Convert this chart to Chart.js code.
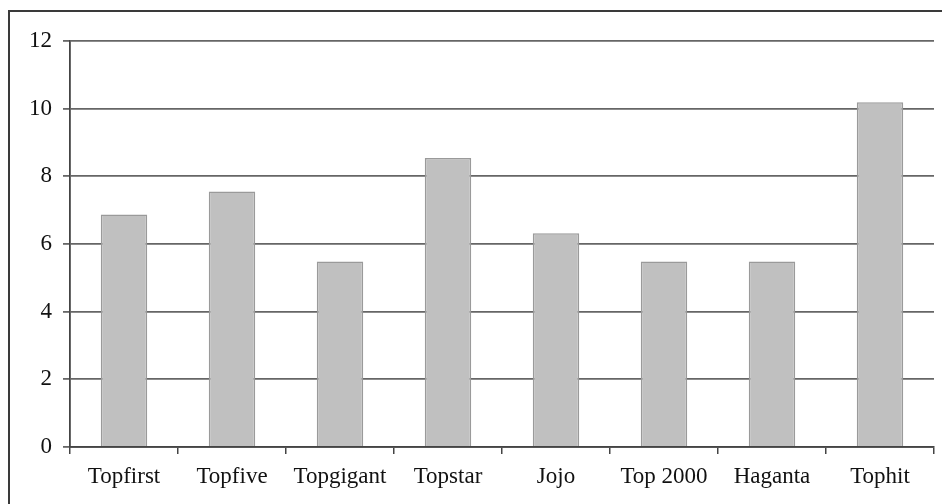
<!DOCTYPE html>
<html>
<head>
<meta charset="utf-8">
<script src="https://cdn.jsdelivr.net/npm/chart.js@4"></script>
<style>
  html, body { margin: 0; padding: 0; background: #fff; }
  #wrap { position: relative; width: 942px; height: 504px; overflow: hidden; }
  #frame { position: absolute; left: 8px; top: 10px; width: 1000px; height: 600px;
           border-left: 2px solid #3a3a3a; border-top: 2px solid #3a3a3a; }
  canvas { position: absolute; left: 0; top: 0; }
</style>
</head>
<body>
<div id="wrap">
  <div id="frame"></div>
  <canvas id="c" width="942" height="504"></canvas>
</div>
<script>
const categories = ["Topfirst", "Topfive", "Topgigant", "Topstar", "Jojo", "Top 2000", "Haganta", "Tophit"];
const values = [6.87, 7.55, 5.48, 8.54, 6.32, 5.48, 5.48, 10.19];
const yTicks = [0, 2, 4, 6, 8, 10, 12];

const font = { family: "'Liberation Serif', 'Times New Roman', serif", size: 23 };

new Chart(document.getElementById('c'), {
  type: 'bar',
  data: {
    labels: categories,
    datasets: [{
      data: values,
      backgroundColor: '#c0c0c0',
      borderColor: '#9a9a9a',
      borderWidth: 1.5,
      barPercentage: 0.43,
      categoryPercentage: 1.0
    }]
  },
  options: {
    responsive: false,
    animation: false,
    layout: { padding: { left: 0, right: 8, top: 41, bottom: 0 } },
    plugins: { legend: { display: false }, tooltip: { enabled: false } },
    scales: {
      x: {
        offset: true,
        grid: { drawOnChartArea: false, drawTicks: true, tickLength: 7, color: '#444', lineWidth: 1.5, offset: true },
        border: { color: '#444', width: 1.8 },
        ticks: { font: font, color: '#111', padding: 9, maxRotation: 0, autoSkip: false },
        afterFit: s => { s.height = 57; }
      },
      y: {
        min: 0, max: 12,
        afterBuildTicks: s => { s.ticks = yTicks.map(v => ({ value: v })); },
        grid: { color: '#666', lineWidth: 1.8, tickLength: 7, drawTicks: true },
        border: { color: '#444', width: 1.8 },
        ticks: { font: font, color: '#111', padding: 11 },
        afterFit: s => { s.width = 70; }
      }
    }
  }
});
</script>
</body>
</html>
